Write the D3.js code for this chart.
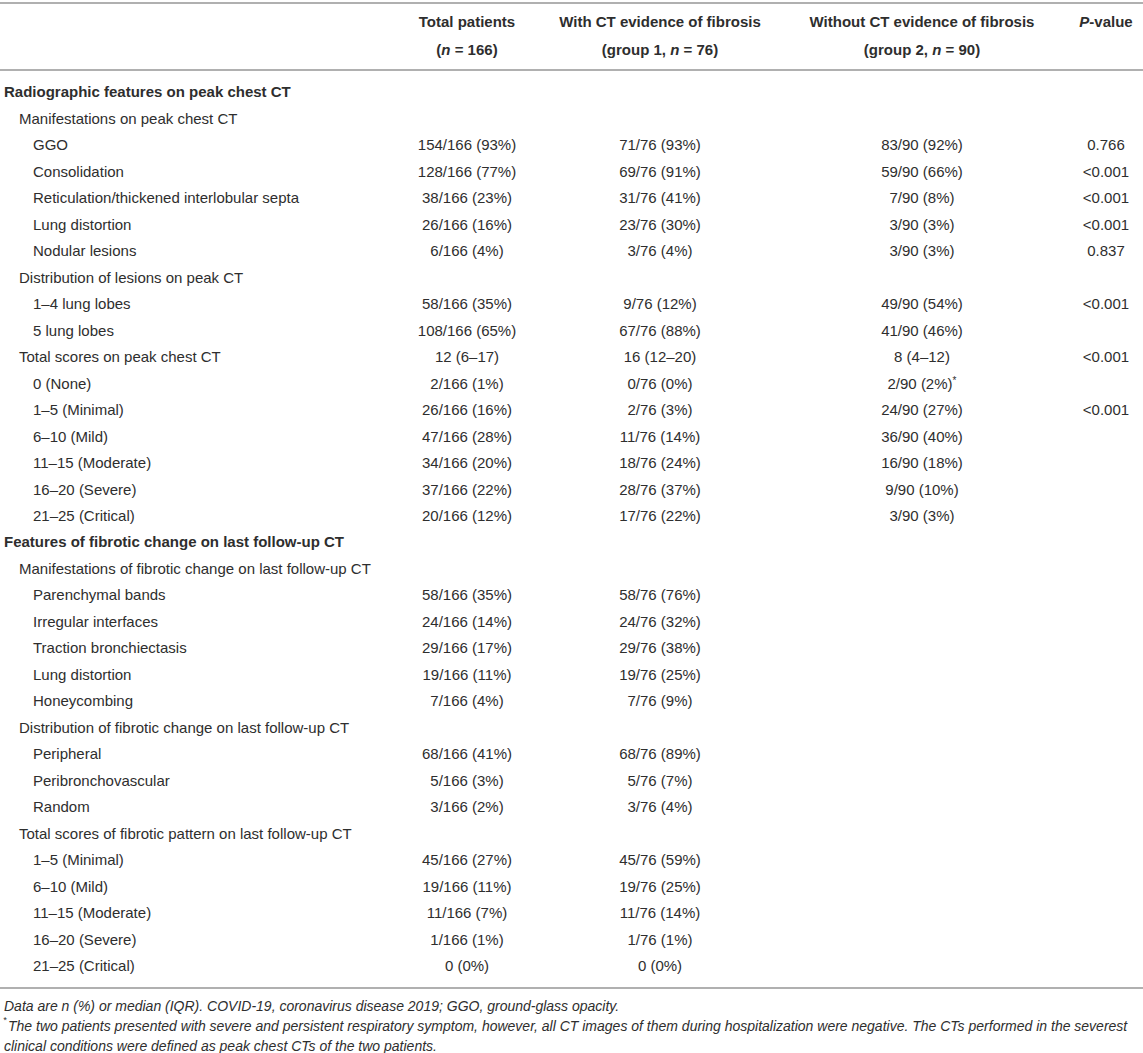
<!DOCTYPE html>
<html>
	<head>
		<title>D3 - CT features table</title>
		<script src="https://d3js.org/d3.v7.min.js"></script>
		<style>
			body { margin: 0; background: #fff; }
			text { font-family: "Liberation Sans", Arial, Helvetica, sans-serif; fill: #2e2e2e; }
		</style>
	</head>

	<body>

		<svg width="1143" height="1053"></svg>

		<script type="text/javascript">

			// header cells: [line 1, line 2 before n, n, line 2 after n]
			var headerTotal = ["Total patients", "(", "n", " = 166)"];
			var headerGroup1 = ["With CT evidence of fibrosis", "(group 1, ", "n", " = 76)"];
			var headerGroup2 = ["Without CT evidence of fibrosis", "(group 2, ", "n", " = 90)"];

			// row labels and their nesting level (0 = section, 1 = subheading, 2 = item)
			var rowLabels = [
				"Radiographic features on peak chest CT",
				"Manifestations on peak chest CT",
				"GGO", "Consolidation", "Reticulation/thickened interlobular septa", "Lung distortion", "Nodular lesions",
				"Distribution of lesions on peak CT",
				"1–4 lung lobes", "5 lung lobes",
				"Total scores on peak chest CT",
				"0 (None)", "1–5 (Minimal)", "6–10 (Mild)", "11–15 (Moderate)", "16–20 (Severe)", "21–25 (Critical)",
				"Features of fibrotic change on last follow-up CT",
				"Manifestations of fibrotic change on last follow-up CT",
				"Parenchymal bands", "Irregular interfaces", "Traction bronchiectasis", "Lung distortion", "Honeycombing",
				"Distribution of fibrotic change on last follow-up CT",
				"Peripheral", "Peribronchovascular", "Random",
				"Total scores of fibrotic pattern on last follow-up CT",
				"1–5 (Minimal)", "6–10 (Mild)", "11–15 (Moderate)", "16–20 (Severe)", "21–25 (Critical)"
			];
			var rowLevels = [0, 1, 2, 2, 2, 2, 2, 1, 2, 2, 1, 2, 2, 2, 2, 2, 2,
				0, 1, 2, 2, 2, 2, 2, 1, 2, 2, 2, 1, 2, 2, 2, 2, 2];

			var totalValues = [
				"", "",
				"154/166 (93%)", "128/166 (77%)", "38/166 (23%)", "26/166 (16%)", "6/166 (4%)",
				"", "58/166 (35%)", "108/166 (65%)",
				"12 (6–17)",
				"2/166 (1%)", "26/166 (16%)", "47/166 (28%)", "34/166 (20%)", "37/166 (22%)", "20/166 (12%)",
				"", "",
				"58/166 (35%)", "24/166 (14%)", "29/166 (17%)", "19/166 (11%)", "7/166 (4%)",
				"", "68/166 (41%)", "5/166 (3%)", "3/166 (2%)",
				"", "45/166 (27%)", "19/166 (11%)", "11/166 (7%)", "1/166 (1%)", "0 (0%)"
			];
			var group1Values = [
				"", "",
				"71/76 (93%)", "69/76 (91%)", "31/76 (41%)", "23/76 (30%)", "3/76 (4%)",
				"", "9/76 (12%)", "67/76 (88%)",
				"16 (12–20)",
				"0/76 (0%)", "2/76 (3%)", "11/76 (14%)", "18/76 (24%)", "28/76 (37%)", "17/76 (22%)",
				"", "",
				"58/76 (76%)", "24/76 (32%)", "29/76 (38%)", "19/76 (25%)", "7/76 (9%)",
				"", "68/76 (89%)", "5/76 (7%)", "3/76 (4%)",
				"", "45/76 (59%)", "19/76 (25%)", "11/76 (14%)", "1/76 (1%)", "0 (0%)"
			];
			var group2Values = [
				"", "",
				"83/90 (92%)", "59/90 (66%)", "7/90 (8%)", "3/90 (3%)", "3/90 (3%)",
				"", "49/90 (54%)", "41/90 (46%)",
				"8 (4–12)",
				"2/90 (2%)*", "24/90 (27%)", "36/90 (40%)", "16/90 (18%)", "9/90 (10%)", "3/90 (3%)",
				"", "",
				"", "", "", "", "",
				"", "", "", "",
				"", "", "", "", "", ""
			];
			var pValues = [
				"", "",
				"0.766", "<0.001", "<0.001", "<0.001", "0.837",
				"", "<0.001", "",
				"<0.001",
				"", "<0.001", "", "", "", "",
				"", "",
				"", "", "", "", "",
				"", "", "", "",
				"", "", "", "", "", ""
			];

			var footnotes = [
				"Data are n (%) or median (IQR). COVID-19, coronavirus disease 2019; GGO, ground-glass opacity.",
				"The two patients presented with severe and persistent respiratory symptom, however, all CT images of them during hospitalization were negative. The CTs performed in the severest",
				"clinical conditions were defined as peak chest CTs of the two patients."
			];

			var svg = d3.select("svg"),
			    width = +svg.attr("width"),
			    height = +svg.attr("height");

			var columns = ["total", "g1", "g2", "p"];
			var xScale = d3.scaleOrdinal()
				.domain(columns)
				.range([467, 660, 922, 1106]);

			var indent = d3.scaleOrdinal()
				.domain([0, 1, 2])
				.range([4, 19, 33]);

			var yScale = d3.scalePoint()
				.domain(d3.range(rowLabels.length))
				.range([92, 966]);

			var rules = [3, 70, 988];
			svg.selectAll("line.rule")
				.data(rules)
				.enter().append("line")
				  .attr("class", "rule")
				  .attr("x1", 0)
				  .attr("x2", width)
				  .attr("y1", function(d) { return d; })
				  .attr("y2", function(d) { return d; })
				  .attr("stroke", "#b0b0b0")
				  .attr("stroke-width", 2);

			// header
			var headers = [headerTotal, headerGroup1, headerGroup2];
			var head = svg.append("g")
				.attr("font-size", 15)
				.attr("font-weight", "bold")
				.attr("text-anchor", "middle");

			headers.forEach(function(h, i) {
				var x = xScale(columns[i]);
				head.append("text")
					.attr("x", x)
					.attr("y", 22)
					.attr("dy", "0.35em")
					.text(h[0]);
				var t2 = head.append("text")
					.attr("x", x)
					.attr("y", 50)
					.attr("dy", "0.35em");
				t2.append("tspan").text(h[1]);
				t2.append("tspan").attr("font-style", "italic").text(h[2]);
				t2.append("tspan").text(h[3]);
			});

			var pHead = head.append("text")
				.attr("x", xScale("p"))
				.attr("y", 22)
				.attr("dy", "0.35em");
			pHead.append("tspan").attr("font-style", "italic").text("P");
			pHead.append("tspan").text("-value");

			// body rows
			var rows = svg.append("g")
				.attr("font-size", 15)
				.selectAll("g.row")
				.data(d3.range(rowLabels.length))
				.enter().append("g")
				  .attr("class", "row")
				  .attr("transform", function(i) { return "translate(0," + yScale(i) + ")"; });

			rows.append("text")
				.attr("x", function(i) { return indent(rowLevels[i]); })
				.attr("dy", "0.35em")
				.attr("font-weight", function(i) { return rowLevels[i] === 0 ? "bold" : "normal"; })
				.text(function(i) { return rowLabels[i]; });

			var valueLists = [totalValues, group1Values, group2Values, pValues];
			valueLists.forEach(function(list, c) {
				var cell = rows.append("text")
					.attr("x", xScale(columns[c]))
					.attr("dy", "0.35em")
					.attr("text-anchor", "middle");
				cell.append("tspan")
					.text(function(i) { return list[i].replace("*", ""); });
				cell.filter(function(i) { return list[i].indexOf("*") >= 0; })
					.append("tspan")
					  .attr("font-size", 10)
					  .attr("dy", "-0.5em")
					  .text("*");
			});

			// footnotes
			var notes = svg.append("g")
				.attr("font-size", 14)
				.attr("font-style", "italic");

			var noteY = d3.scalePoint()
				.domain(d3.range(footnotes.length))
				.range([1006, 1046]);

			notes.selectAll("text")
				.data(footnotes)
				.enter().append("text")
				  .attr("x", function(d, i) { return i === 1 ? 8 : 4; })
				  .attr("y", function(d, i) { return noteY(i); })
				  .attr("dy", "0.35em")
				  .text(function(d) { return d; });

			notes.append("text")
				.attr("x", 3)
				.attr("y", noteY(1) - 3)
				.attr("font-size", 9)
				.text("*");

		</script>

	</body>
</html>
